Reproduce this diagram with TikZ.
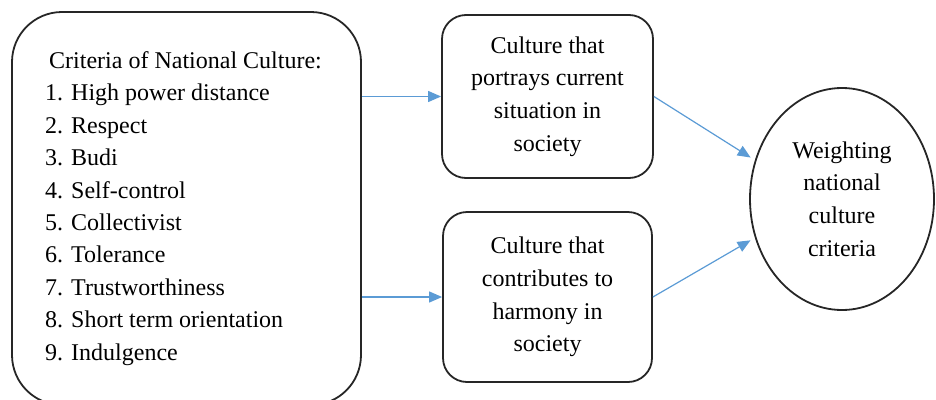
\documentclass[tikz,border=0pt]{standalone}
\usepackage{fontspec}
\setmainfont{Liberation Serif}
\usetikzlibrary{arrows.meta,shapes.geometric}
\definecolor{arrowblue}{RGB}{91,155,213}
\tikzset{
  txt/.style={font=\fontsize{24}{32.8}\selectfont, align=center, inner sep=0pt},
  rbox/.style={draw=black!85, line width=1.8pt, rounded corners=24pt, txt},
  bigbox/.style={draw=black!85, line width=1.8pt, rounded corners=50pt, font=\fontsize{24}{32.4}\selectfont, align=left, inner sep=0pt},
  circ/.style={draw=black!85, line width=1.8pt, ellipse, txt},
  link/.style={draw=arrowblue, line width=1.2pt, -{Triangle[length=13pt,width=11pt]}}
}
\begin{document}
\begin{tikzpicture}[x=1pt,y=-1pt]
\useasboundingbox (0,0) rectangle (936,399);
\node[bigbox, minimum width=349pt, minimum height=393pt] (crit) at (186.5,208.5)
  {\hspace*{4pt}Criteria of National Culture:\hspace*{6pt}\\
   1. High power distance\\
   2. Respect\\
   3. Budi\\
   4. Self-control\\
   5. Collectivist\\
   6. Tolerance\\
   7. Trustworthiness\\
   8. Short term orientation\\
   9. Indulgence};
\node[rbox, minimum width=211pt, minimum height=163pt] (cur) at (547.5,96.5)
  {Culture that\\portrays current\\situation in\\society};
\node[rbox, minimum width=209pt, minimum height=170pt] (har) at (547.5,297)
  {Culture that\\contributes to\\harmony in\\society};
\node[circ, minimum width=184pt, minimum height=222pt] (wei) at (842,199)
  {Weighting\\national\\culture\\criteria};
\draw[link] (crit.east |- cur.west) -- (cur.west);
\draw[link] (crit.east |- har.west) -- (har.west);
\draw[link, shorten >=5pt] (cur.east) -- (wei.156);
\draw[link, shorten >=5pt] (har.east) -- (wei.204);
\end{tikzpicture}
\end{document}
